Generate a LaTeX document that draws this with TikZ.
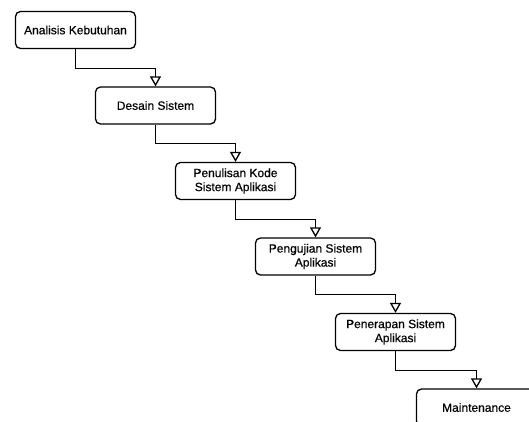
\documentclass[tikz,border=0pt]{standalone}
\usepackage{fontspec}
\setmainfont[FakeBold=0.5]{Liberation Sans}
\usetikzlibrary{arrows.meta}
\tikzset{
	tahap/.style={draw=black,line width=1.3pt,rounded corners=5pt,minimum width=120pt,minimum height=37pt,align=center,inner sep=0pt,font=\fontsize{12}{14}\selectfont},
	alur/.style={draw=black,line width=1.3pt,-{Triangle[open,width=11pt,length=10pt]}}
}
\begin{document}
\begin{tikzpicture}[x=1pt,y=-1pt]
			\clip (0,0) rectangle (529,421);
			\node[tahap] (analisis) at (75.5,30) {Analisis Kebutuhan};
			\node[tahap] (desain) at (155.5,105.5) {Desain Sistem};
			\node[tahap] (kode) at (235.5,181) {Penulisan Kode\\Sistem Aplikasi};
			\node[tahap] (uji) at (315.5,256.5) {Pengujian Sistem\\Aplikasi};
			\node[tahap] (terap) at (395.5,332) {Penerapan Sistem\\Aplikasi};
			\node[tahap] (rawat) at (476.5,407.5) {Maintenance};
			\draw[alur] (analisis.south) -- ++(0,19.5) -| (desain.north);
			\draw[alur] (desain.south) -- ++(0,19) -| (kode.north);
			\draw[alur] (kode.south) -- ++(0,19) -| (uji.north);
			\draw[alur] (uji.south) -- ++(0,19) -| (terap.north);
			\draw[alur] (terap.south) -- ++(0,19) -| (rawat.north);
	\end{tikzpicture}
\end{document}
